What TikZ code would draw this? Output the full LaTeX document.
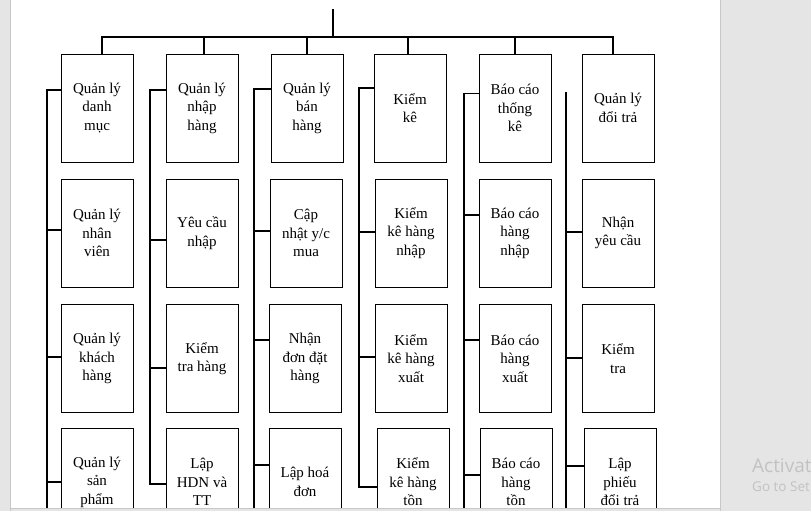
\documentclass[tikz,border=0pt]{standalone}
\usepackage{fontspec}
\setmainfont{Liberation Serif}
\newfontfamily\uifont{Open Sans}
\usepackage{xcolor}
\usetikzlibrary{positioning}

\begin{document}
\begin{tikzpicture}[
        x=1pt, y=-1pt,
        every node/.style={align=center, inner sep=2pt},
        func/.style ={rectangle, draw=black, line width=0.9pt, fill=white,
                      minimum width=72pt, minimum height=108pt,
                      font=\fontsize{15}{18.5}\selectfont},
        link/.style ={line width=2pt, draw=black},
        hair/.style ={line width=1pt, draw=black},
        wmark/.style={text=black!24, anchor=base west, inner sep=0pt},
    ]
        \useasboundingbox (0,0) rectangle (811,511);
        \clip (0,0) rectangle (811,511);

        % ===================== Nền trang =====================
        \fill[black!10] (0,0) rectangle (811,511);
        \filldraw[fill=white, draw=black!22, line width=1pt] (10.5,-5) rectangle (720,508);

        % ===================== Cột 1: danh mục =====================
        \node[func] (dm)  at ( 97,108)   {Quản lý\\danh\\mục};
        \node[func] (nv)  at ( 97,233)   {Quản lý\\nhân\\viên};
        \node[func] (kh)  at ( 97,358.5) {Quản lý\\khách\\hàng};
        \node[func] (sp)  at ( 97,482)   {Quản lý\\sản\\phẩm};

        % ===================== Cột 2: nhập hàng =====================
        \node[func] (nh)  at (202,108)   {Quản lý\\nhập\\hàng};
        \node[func] (ycn) at (202,233)   {Yêu cầu\\nhập};
        \node[func] (kth) at (202,358.5) {Kiểm\\tra hàng};
        \node[func] (hdn) at (202,482)   {Lập\\HDN và\\TT};

        % ===================== Cột 3: bán hàng =====================
        \node[func] (bh)  at (307,108)   {Quản lý\\bán\\hàng};
        \node[func] (cn)  at (306,233)   {Cập\\nhật y/c\\mua};
        \node[func] (ndh) at (305,358.5) {Nhận\\đơn đặt\\hàng};
        \node[func] (lhd) at (305,482)   {Lập hoá\\đơn};

        % ===================== Cột 4: kiểm kê =====================
        \node[func] (kk)  at (410,108)   {Kiểm\\kê};
        \node[func] (kkn) at (411,233)   {Kiểm\\kê hàng\\nhập};
        \node[func] (kkx) at (411,358.5) {Kiểm\\kê hàng\\xuất};
        \node[func] (kkt) at (413,482)   {Kiểm\\kê hàng\\tồn};

        % ===================== Cột 5: báo cáo =====================
        \node[func] (bc)  at (515,108)   {Báo cáo\\thống\\kê};
        \node[func] (bcn) at (515,233)   {Báo cáo\\hàng\\nhập};
        \node[func] (bcx) at (515,358.5) {Báo cáo\\hàng\\xuất};
        \node[func] (bct) at (516,482)   {Báo cáo\\hàng\\tồn};

        % ===================== Cột 6: đổi trả =====================
        \node[func] (dt)  at (618,108)   {Quản lý\\đổi trả};
        \node[func] (nyc) at (618,233)   {Nhận\\yêu cầu};
        \node[func] (kt)  at (618,358.5) {Kiểm\\tra};
        \node[func] (lpd) at (620,482)   {Lập\\phiếu\\đổi trả};

        % ===================== Nhánh gốc =====================
        \coordinate (root) at (333,9);
        \coordinate (bus)  at (333,37);
        \draw[link] (root) -- (bus);
        \draw[link] ([xshift=5]dm.north) |- (bus) -| ([xshift=-5]dt.north);
        \draw[link] ([xshift=2]nh.north) -- ([xshift=2]nh.north |- bus);
        \draw[link] (bh.north) -- (bh.north |- bus);
        \draw[link] ([xshift=-2]kk.north) -- ([xshift=-2]kk.north |- bus);
        \draw[link] (bc.north) -- (bc.north |- bus);

        % ===================== Trục trái từng cột =====================
        \coordinate (sa) at (47,520);
        \draw[link] ([yshift=18]dm.west) -| (sa);
        \draw[link] ([yshift=3]nv.west) -- ([yshift=3]nv.west -| sa);
        \draw[link] ([yshift=2]kh.west) -- ([yshift=2]kh.west -| sa);
        \draw[link] (sp.west) -- (sp.west -| sa);

        \coordinate (sb) at (150,300);
        \draw[link] ([yshift=18]nh.west) -| (sb) |- ([yshift=-2]hdn.west);
        \draw[link] ([yshift=-7]ycn.west) -- ([yshift=-7]ycn.west -| sb);
        \draw[link] ([yshift=-9.5]kth.west) -- ([yshift=-9.5]kth.west -| sb);

        \coordinate (sc) at (254,520);
        \draw[link] ([yshift=19]bh.west) -| (sc);
        \draw[link] ([yshift=2]cn.west) -- ([yshift=2]cn.west -| sc);
        \draw[link] ([yshift=18.5]ndh.west) -- ([yshift=18.5]ndh.west -| sc);
        \draw[link] ([yshift=17]lhd.west) -- ([yshift=17]lhd.west -| sc);

        \coordinate (sd) at (359,300);
        \draw[link] ([yshift=20]kk.west) -| (sd) |- ([yshift=-5]kkt.west);
        \draw[link] ([yshift=1]kkn.west) -- ([yshift=1]kkn.west -| sd);
        \draw[link] ([yshift=1.5]kkx.west) -- ([yshift=1.5]kkx.west -| sd);

        \coordinate (se0) at (464,93);
        \coordinate (se)  at (464,520);
        \draw[link] (se0) -- (se);
        \draw[hair] ([yshift=15]bc.west) -- ([yshift=15]bc.west -| se);
        \draw[link] ([yshift=18]bcn.west) -- ([yshift=18]bcn.west -| se);
        \draw[link] ([yshift=18.5]bcx.west) -- ([yshift=18.5]bcx.west -| se);
        \draw[link] ([yshift=7]bct.west) -- ([yshift=7]bct.west -| se);

        \coordinate (sf0) at (566,92);
        \coordinate (sf)  at (566,520);
        \draw[link] (sf0) -- (sf);
        \draw[link] ([yshift=1]nyc.west) -- ([yshift=1]nyc.west -| sf);
        \draw[link] ([yshift=0.5]kt.west) -- ([yshift=0.5]kt.west -| sf);
        \draw[link] ([yshift=16]lpd.west) -- ([yshift=16]lpd.west -| sf);

        % ===================== Mép dưới + chữ mờ =====================
        \filldraw[fill=black!10, draw=black!22, line width=1pt] (10.5,508) rectangle (720,516);
        \node[wmark, font=\uifont\fontsize{19}{22}\selectfont] (act) at (752,472) {Activat};
        \node[wmark, font=\uifont\fontsize{13.5}{16}\selectfont] (go) at (752,491) {Go to Set};
    \end{tikzpicture}
\end{document}
